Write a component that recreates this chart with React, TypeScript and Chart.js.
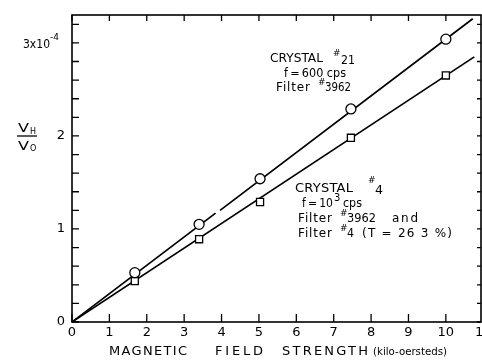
import React, { useEffect, useRef } from 'react';
import { Chart, registerables } from 'chart.js';

Chart.register(...registerables);

// ---- data ----
const xTickValues = [0, 1, 2, 3, 4, 5, 6, 7, 8, 9, 10, 11];
const yTickValues = [0, 1, 2, 3];
const crystal21X = [1.68, 3.4, 5.03, 7.46, 10.0];
const crystal21Y = [0.53, 1.05, 1.54, 2.29, 3.04];
const crystal4X = [1.68, 3.4, 5.03, 7.46, 10.0];
const crystal4Y = [0.44, 0.89, 1.29, 1.98, 2.65];
const fit21X = [0, 3.84, 3.9, 3.96, 10.72];
const fit21Y = [0, 1.17, null, 1.2, 3.26];
const fit4X = [0, 10.76];
const fit4Y = [0, 2.85];

const X_MIN = 0;
const X_MAX = 10.94;
const Y_MIN = 0;
const Y_MAX = 3.3;

const FONT = '"DejaVu Sans", sans-serif';
const INK = '#000';
const TS = '\u2009';

function pts(xs: number[], ys: (number | null)[]) {
  return xs.map((x, i) => ({ x, y: ys[i] }));
}

function fitText(ctx: CanvasRenderingContext2D, text: string, x: number, base: number, width: number, size: number, weight = 'normal') {
  ctx.font = `${weight} ${size}px ${FONT}`;
  (ctx as any).letterSpacing = '0px';
  const w = ctx.measureText(text).width;
  const n = text.length;
  if (w < width && n > 1) {
    (ctx as any).letterSpacing = ((width - w) / (n - 1)).toFixed(2) + 'px';
    ctx.fillText(text, x, base);
  } else {
    ctx.save();
    ctx.translate(x, base);
    ctx.scale(width / w, 1);
    ctx.fillText(text, 0, 0);
    ctx.restore();
  }
  (ctx as any).letterSpacing = '0px';
}

function plain(ctx: CanvasRenderingContext2D, text: string, x: number, base: number, size: number) {
  ctx.font = `normal ${size}px ${FONT}`;
  (ctx as any).letterSpacing = '0px';
  ctx.fillText(text, x, base);
}

const decorPlugin = {
  id: 'decor',
  afterDraw(chart: any) {
    const ctx: CanvasRenderingContext2D = chart.ctx;
    const { left, right, top, bottom } = chart.chartArea;
    const xs = chart.scales.x;
    const ys = chart.scales.y;
    ctx.save();
    ctx.strokeStyle = INK;
    ctx.fillStyle = INK;
    // frame
    ctx.lineWidth = 1.6;
    ctx.strokeRect(left, top, right - left, bottom - top);
    // ticks
    ctx.lineWidth = 1.3;
    ctx.beginPath();
    for (let i = 0; i <= 16; i++) {
      const v = i * 0.2;
      const py = ys.getPixelForValue(v);
      ctx.moveTo(left, py);
      ctx.lineTo(left + 7, py);
      ctx.moveTo(right, py);
      ctx.lineTo(right - 4, py);
    }
    for (const v of xTickValues) {
      if (v > X_MAX) continue;
      const px = xs.getPixelForValue(v);
      ctx.moveTo(px, bottom);
      ctx.lineTo(px, bottom - 8);
      ctx.moveTo(px, top);
      ctx.lineTo(px, top + 6);
    }
    ctx.stroke();

    // x tick label beyond the frame (11), cut by the page edge
    ctx.font = `normal 13px ${FONT}`;
    ctx.textAlign = 'center';
    ctx.textBaseline = 'middle';
    ctx.fillText('11', xs.getPixelForValue(11), bottom + 3 + 7.8);

    ctx.textAlign = 'left';
    ctx.textBaseline = 'alphabetic';
    // y tick label for 3 with exponent
    const p3 = ys.getPixelForValue(3);
    fitText(ctx, '3x10', 23, p3 + 5, 27, 13);
    plain(ctx, '-4', 50, p3 - 3, 9);

    // y axis label V_H / V_0
    fitText(ctx, 'V', 18, 132, 11, 12);
    plain(ctx, 'H', 30, 134, 8);
    ctx.lineWidth = 1.3;
    ctx.beginPath();
    ctx.moveTo(17, 136);
    ctx.lineTo(37, 136);
    ctx.stroke();
    fitText(ctx, 'V', 18, 150, 11, 12);
    plain(ctx, 'O', 30, 151, 8);

    // x axis title
    fitText(ctx, 'MAGNETIC', 109, 355, 78, 13);
    fitText(ctx, 'FIELD', 215, 355, 48, 13);
    fitText(ctx, 'STRENGTH', 282, 355, 86, 13);
    fitText(ctx, '(kilo-oersteds)', 373, 355, 74, 11);

    // annotation: crystal 21
    fitText(ctx, 'CRYSTAL', 270, 62, 53, 13);
    plain(ctx, '#', 333, 56, 9);
    fitText(ctx, '21', 341, 64, 14, 13);
    fitText(ctx, `f${TS}=${TS}600 cps`, 284, 77, 62, 12);
    fitText(ctx, 'Filter', 276, 91, 34, 12);
    plain(ctx, '#', 318, 85, 9);
    fitText(ctx, '3962', 325, 91, 26, 12);

    // annotation: crystal 4
    fitText(ctx, 'CRYSTAL', 295, 192, 58, 13);
    plain(ctx, '#', 368, 183, 9);
    fitText(ctx, '4', 375, 194, 8, 13);
    fitText(ctx, `f${TS}=${TS}10`, 302, 207, 31, 12);
    plain(ctx, '3', 334, 201, 10);
    fitText(ctx, 'cps', 343, 207, 19, 12);
    fitText(ctx, 'Filter', 298, 222, 34, 12);
    plain(ctx, '#', 340, 216, 9);
    fitText(ctx, '3962', 347, 222, 29, 12);
    fitText(ctx, 'and', 392, 222, 26, 12);
    fitText(ctx, 'Filter', 298, 237, 34, 12);
    plain(ctx, '#', 340, 231, 9);
    fitText(ctx, '4', 347, 237, 7, 12);
    fitText(ctx, '(T = 26 3 %)', 362, 237, 90, 12);
    ctx.restore();
  },
};

export default function App() {
  const ref = useRef<HTMLCanvasElement | null>(null);
  useEffect(() => {
    if (!ref.current) return;
    const chart = new Chart(ref.current, {
      type: 'line',
      data: {
        datasets: [
          {
            label: 'Crystal #21',
            data: pts(crystal21X, crystal21Y),
            showLine: false,
            pointStyle: 'circle',
            pointRadius: 5,
            pointBorderWidth: 1.3,
            pointBackgroundColor: '#fff',
            pointBorderColor: INK,
            borderColor: INK,
          },
          {
            label: 'Crystal #4',
            data: pts(crystal4X, crystal4Y),
            showLine: false,
            pointStyle: 'rect',
            pointRadius: 5,
            pointBorderWidth: 1.3,
            pointBackgroundColor: '#fff',
            pointBorderColor: INK,
            borderColor: INK,
          },
          {
            label: 'fit 21',
            data: pts(fit21X, fit21Y),
            borderColor: INK,
            borderWidth: 1.7,
            pointRadius: 0,
            spanGaps: false,
            tension: 0,
          },
          {
            label: 'fit 4',
            data: pts(fit4X, fit4Y),
            borderColor: INK,
            borderWidth: 1.7,
            pointRadius: 0,
            tension: 0,
          },
        ],
      },
      options: {
        animation: false,
        responsive: false,
        maintainAspectRatio: false,
        devicePixelRatio: 1,
        layout: { padding: { left: 0, top: 15, right: 9, bottom: 0 } },
        plugins: { legend: { display: false }, tooltip: { enabled: false }, title: { display: false } },
        scales: {
          x: {
            type: 'linear',
            min: X_MIN,
            max: X_MAX,
            grid: { display: false, drawTicks: false },
            border: { display: false },
            afterBuildTicks: (s: any) => {
              s.ticks = xTickValues.filter((v) => v <= X_MAX).map((value) => ({ value }));
            },
            afterFit: (s: any) => {
              s.height = 40;
            },
            ticks: {
              autoSkip: false,
              maxRotation: 0,
              minRotation: 0,
              padding: 3,
              color: INK,
              font: { family: FONT, size: 13 },
              callback: (v: any) => String(v),
            },
          },
          y: {
            type: 'linear',
            min: Y_MIN,
            max: Y_MAX,
            grid: { display: false, drawTicks: false },
            border: { display: false },
            afterBuildTicks: (s: any) => {
              s.ticks = yTickValues.map((value) => ({ value }));
            },
            afterFit: (s: any) => {
              s.width = 72;
            },
            ticks: {
              padding: 7,
              color: INK,
              font: { family: FONT, size: 13 },
              callback: (v: any) => (v === 3 ? '' : String(v)),
            },
          },
        },
      },
      plugins: [decorPlugin],
    });
    return () => chart.destroy();
  }, []);
  return (
    <div style={{ position: 'fixed', left: 0, top: 0, width: 482, height: 362, overflow: 'hidden', background: '#fff' }}>
      <canvas ref={ref} width={490} height={362} style={{ display: 'block', width: 490, height: 362 }} />
    </div>
  );
}
